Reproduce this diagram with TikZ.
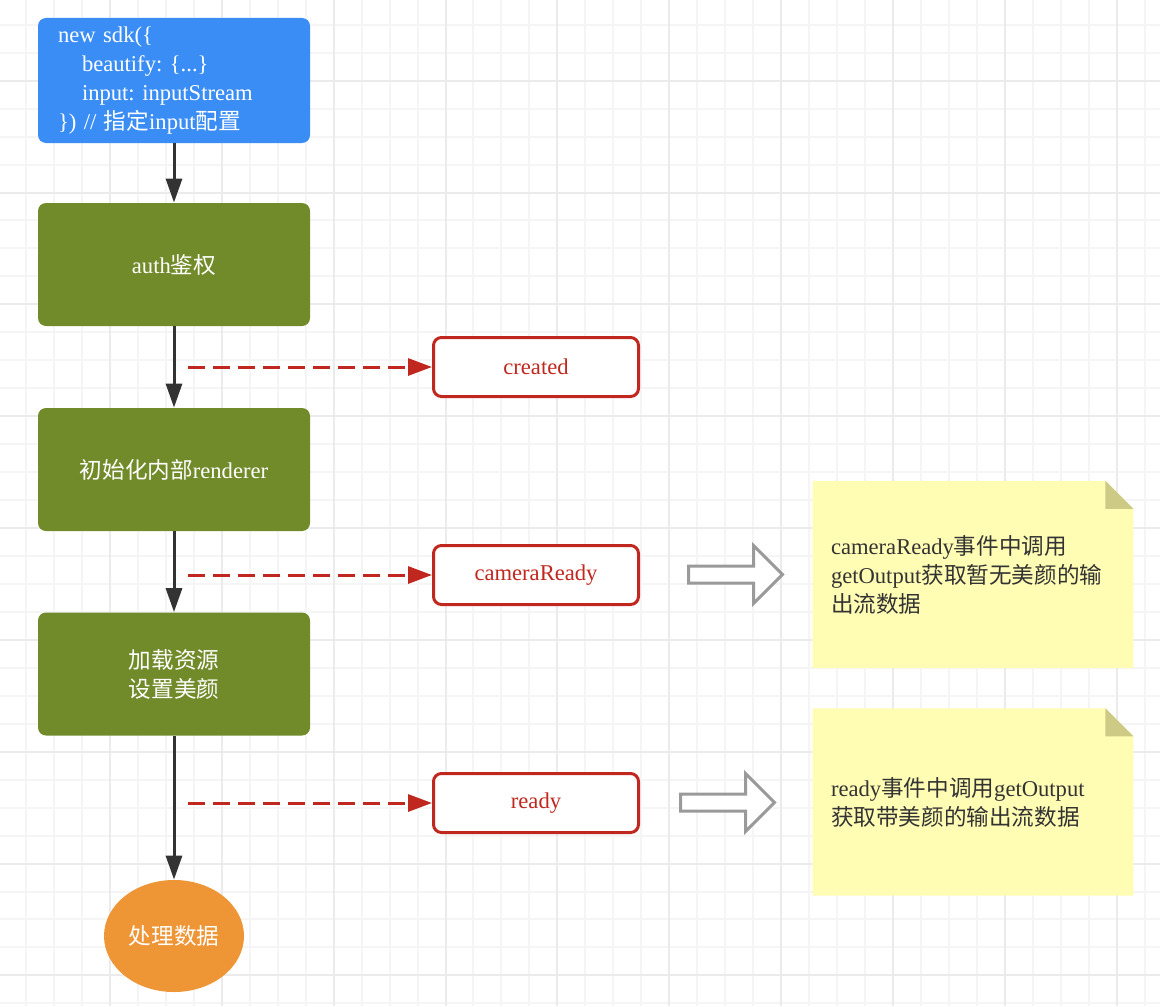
\documentclass[tikz,border=0pt]{standalone}
\usepackage{fontspec}
\setmainfont{Liberation Serif}
\newfontfamily\zhfont{Noto Sans CJK SC}
\usetikzlibrary{arrows.meta,shapes.geometric,shapes.arrows}
\frenchspacing

\definecolor{sdkblue}{HTML}{3A8DF4}
\definecolor{stepgreen}{HTML}{728B2A}
\definecolor{endorange}{HTML}{EE9535}
\definecolor{evtred}{HTML}{C0281F}
\definecolor{noteyellow}{HTML}{FFFDB4}
\definecolor{notefold}{HTML}{CCCA84}
\definecolor{flowgray}{HTML}{333333}
\definecolor{hollowgray}{HTML}{9A9A9A}
\definecolor{gridminor}{HTML}{F5F5F5}
\definecolor{gridmajor}{HTML}{EBEBEB}

\pgfdeclarelayer{grid}
\pgfdeclarelayer{paper}
\pgfsetlayers{grid,paper,main}

\tikzset{
	txt/.style={font=\fontsize{11.3}{14.5}\selectfont},
	sdkbox/.style={txt, fill=sdkblue, text=white, rounded corners=4pt,
		minimum width=136pt, minimum height=62.5pt, text width=116pt, inner xsep=10pt, align=left},
	stepbox/.style={txt, fill=stepgreen, text=white, rounded corners=4pt,
		minimum width=136pt, minimum height=61.5pt, align=center},
	evtbox/.style={txt, draw=evtred, line width=1.5pt, fill=white, text=evtred, rounded corners=4pt,
		minimum width=102.5pt, minimum height=29.5pt},
	endnode/.style={txt, ellipse, fill=endorange, text=white, minimum width=70pt, minimum height=56pt, inner sep=0pt},
	notebox/.style={txt, text=flowgray, minimum width=160pt, minimum height=93.25pt,
		text width=142pt, inner xsep=9pt, align=left},
	hollow/.style={single arrow, draw=hollowgray, line width=1.5pt, fill=white, minimum height=47pt,
		inner xsep=0pt, inner ysep=3.5pt, single arrow head extend=10.25pt, anchor=west},
	flow/.style={draw=flowgray, line width=1.5pt, -{Triangle[length=12pt,width=8pt]}},
	evt/.style={draw=evtred, line width=1.5pt, dash pattern=on 8.3pt off 4.2pt, -{Triangle[length=12pt,width=8.5pt]}},
}

\begin{document}
\begin{tikzpicture}[x=0.5pt, y=-0.5pt]

	\useasboundingbox (0,0) rectangle (1160,1006);

	\begin{pgfonlayer}{grid}
		\fill[white] (0,0) rectangle (1160,1006);
		\foreach \i in {0,...,42}
			\draw[gridminor, line width=1pt] ({-1.85+27.96*\i},0) -- ++(0,1006);
		\foreach \j in {0,...,36}
			\draw[gridminor, line width=1pt] (0,{-3.2+27.96*\j}) -- ++(1160,0);
		\foreach \i in {0,...,10}
			\draw[gridmajor, line width=1pt] ({-1.85+111.84*\i},0) -- ++(0,1006);
		\foreach \j in {0,...,8}
			\draw[gridmajor, line width=1pt] (0,{80.7+111.84*\j}) -- ++(1160,0);
	\end{pgfonlayer}

	\node[sdkbox] (sdk) at (174,80.5) {new sdk(\{\\
		\hspace*{12pt}beautify: \{...\}\\
		\hspace*{12pt}input: inputStream\\
		\}) // {\zhfont 指定}input{\zhfont 配置}};
	\node[stepbox] (auth) at (174,264.5) {auth{\zhfont 鉴权}};
	\node[stepbox] (render) at (174,469.5) {{\zhfont 初始化内部}renderer};
	\node[stepbox] (assets) at (174,674) {{\zhfont 加载资源}\\{\zhfont 设置美颜}};
	\node[endnode] (handle) at (174,936) {{\zhfont 处理数据}};

	\draw[flow] (sdk.south) -- (auth.north);
	\draw[flow] (auth.south) -- (render.north);
	\draw[flow] (render.south) -- (assets.north);
	\draw[flow] (assets.south) -- (handle.north);

	\node[evtbox] (created) at (536,367) {created};
	\node[evtbox] (camready) at (536,575) {cameraReady};
	\node[evtbox] (ready) at (536,803) {ready};

	\coordinate (evtA) at (188,367);
	\coordinate (evtB) at (188,575);
	\coordinate (evtC) at (188,803);
	\draw[evt] (evtA) -- (created.west);
	\draw[evt] (evtB) -- (camready.west);
	\draw[evt] (evtC) -- (ready.west);

	\node[hollow] (hintB) at (687,574.5) {};
	\node[hollow] (hintC) at (679,802.5) {};

	\node[notebox] (noteB) at (973,574.5) {cameraReady{\zhfont 事件中调用}\\
		getOutput{\zhfont 获取暂无美颜的输}\\
		{\zhfont 出流数据}};
	\node[notebox] (noteC) at (973,802) {ready{\zhfont 事件中调用}getOutput\\
		{\zhfont 获取带美颜的输出流数据}};

	\begin{pgfonlayer}{paper}
		\foreach \n in {noteB,noteC} {
			\fill[noteyellow] (\n.north west) -- ([xshift=-14pt]\n.north east)
				-- ([yshift=-14pt]\n.north east) -- (\n.south east) -- (\n.south west) -- cycle;
			\fill[notefold] ([xshift=-14pt]\n.north east) -- ([xshift=-14pt,yshift=-14pt]\n.north east)
				-- ([yshift=-14pt]\n.north east) -- cycle;
		}
	\end{pgfonlayer}

\end{tikzpicture}
\end{document}
